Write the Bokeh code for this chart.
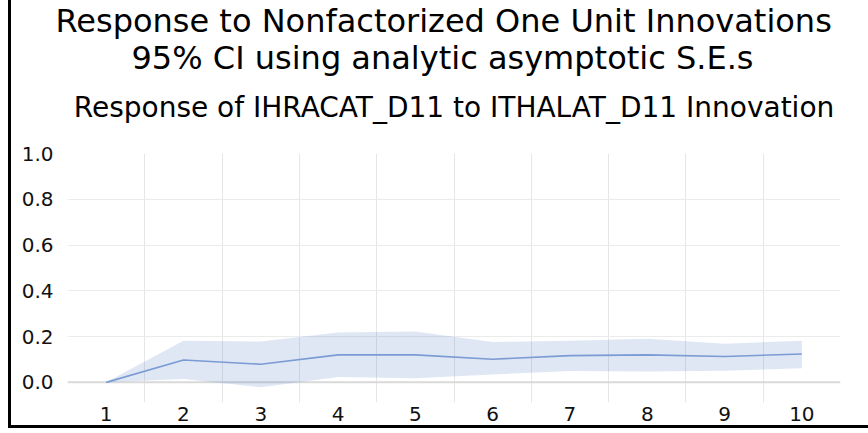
from bokeh.plotting import figure
from bokeh.models import Range1d, FixedTicker, Span, Title, NumeralTickFormatter
from bokeh.embed import file_html
from bokeh.resources import INLINE

# ---- data ----
periods = [1, 2, 3, 4, 5, 6, 7, 8, 9, 10]
response = [0.0, 0.098, 0.079, 0.120, 0.120, 0.101, 0.117, 0.120, 0.113, 0.124]
upper_ci = [0.0, 0.182, 0.178, 0.218, 0.222, 0.176, 0.182, 0.191, 0.169, 0.182]
lower_ci = [0.0, 0.015, -0.021, 0.023, 0.018, 0.034, 0.050, 0.047, 0.051, 0.062]
y_ticks = [0.0, 0.2, 0.4, 0.6, 0.8, 1.0]

title_1 = "Response to Nonfactorized One Unit Innovations"
title_2 = "95% CI using analytic asymptotic S.E.s"
title_3 = "Response of IHRACAT_D11 to ITHALAT_D11 Innovation"

FONT = "DejaVu Sans"

p = figure(width=860, height=428, output_backend="svg", toolbar_location=None,
           x_range=Range1d(0.5, 10.5), y_range=Range1d(-0.088, 1.0),
           min_border_left=56, min_border_right=31, min_border_top=153,
           min_border_bottom=26)
p.styles = {"margin-left": "8px", "border-left": "3px solid black",
            "border-bottom": "3px solid black", "box-sizing": "border-box"}
p.outline_line_color = None
p.background_fill_color = "white"
p.border_fill_color = "white"

# grids
p.xgrid.ticker = FixedTicker(ticks=[x + 0.5 for x in periods[:-1]])
p.xgrid.grid_line_color = "#e6e6e6"
p.xgrid.grid_line_width = 1
p.ygrid.ticker = FixedTicker(ticks=[t for t in y_ticks if 0 < t < 1])
p.ygrid.grid_line_color = "#ebebeb"
p.ygrid.grid_line_width = 1

# axes
p.xaxis.ticker = FixedTicker(ticks=periods)
p.yaxis.ticker = FixedTicker(ticks=y_ticks)
p.yaxis.formatter = NumeralTickFormatter(format="0.0")
for ax in (p.xaxis, p.yaxis):
    ax.axis_line_color = None
    ax.major_tick_line_color = None
    ax.minor_tick_line_color = None
    ax.major_tick_out = 0
    ax.major_tick_in = 0
    ax.major_label_text_font = FONT
    ax.major_label_text_font_size = "20px"
    ax.major_label_text_color = "#111111"
p.yaxis.major_label_standoff = 14
p.xaxis.major_label_standoff = 4

# zero line
p.add_layout(Span(location=0, dimension="width", line_color="#d9d9d9",
                  line_width=2, level="underlay"))

# confidence band and response
p.varea(x=periods, y1=lower_ci, y2=upper_ci, fill_color="#4472c4", fill_alpha=0.17)
p.line(x=periods, y=response, line_color="#7b9bd4", line_width=1.6)

# titles, stacked upward from the plot frame
p.add_layout(Title(text=" ", text_font_size="1px", standoff=11), "above")
p.add_layout(Title(text=title_3, align="center", vertical_align="top",
                   text_font=FONT, text_font_size="28px", text_font_style="normal",
                   text_color="#000000", standoff=27), "above")
p.add_layout(Title(text=title_2, align="left", offset=64, vertical_align="top",
                   text_font=FONT, text_font_size="32px", text_font_style="normal",
                   text_color="#000000", standoff=-3), "above")
p.add_layout(Title(text=title_1, align="left", offset=-12, vertical_align="top",
                   text_font=FONT, text_font_size="32px", text_font_style="normal",
                   text_color="#000000", standoff=-3), "above")

open("out.html", "w").write(file_html(p, INLINE))
